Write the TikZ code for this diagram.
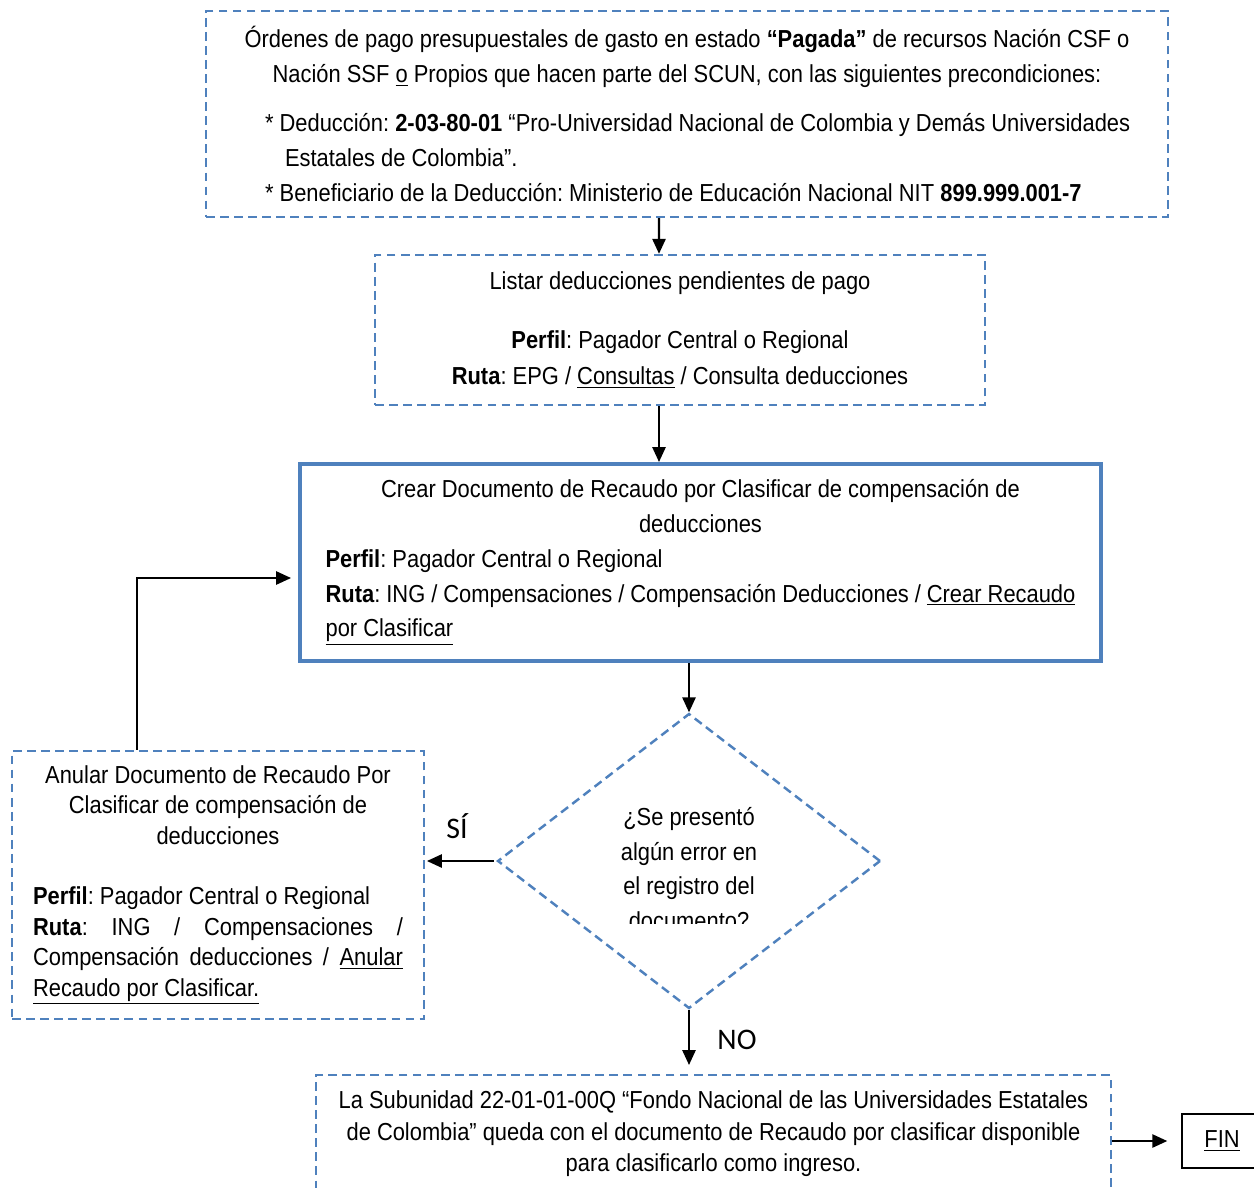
\documentclass[tikz,border=0pt]{standalone}
\usepackage{fontspec}
\setmainfont{Liberation Sans}[FakeStretch=0.89]
\newfontfamily\labelfont{Carlito}
\frenchspacing
\usetikzlibrary{arrows.meta,shapes.geometric}
\definecolor{boxblue}{RGB}{79,129,189}
\tikzset{
  dashbox/.style={draw=boxblue, line width=1.4pt, dash pattern=on 5pt off 3pt, inner sep=0pt},
  flow/.style={-{Triangle[length=8.5pt,width=7.5pt]}, line width=1.2pt},
}
\begin{document}
\begin{tikzpicture}[x=0.02cm,y=-0.02cm,font=\fontsize{14}{19.8}\selectfont]
  \useasboundingbox (0,0) rectangle (1254,1187);
  % process boxes
  \node[dashbox, minimum width=19.24cm, minimum height=4.12cm, text width=18.6cm, align=flush left]
    (ordenes) at (687,114) {%
    {\centering Órdenes de pago presupuestales de gasto en estado \textbf{“Pagada”} de recursos Nación CSF o\\
    Nación SSF \underline{o} Propios que hacen parte del SCUN, con las siguientes precondiciones:\par}
    \vspace{8pt}
    \hspace*{0.86cm}* Deducción: \textbf{2-03-80-01} “Pro-Universidad Nacional de Colombia y Demás Universidades\\
    \hspace*{1.26cm}Estatales de Colombia”.\\
    \hspace*{0.86cm}* Beneficiario de la Deducción: Ministerio de Educación Nacional NIT \textbf{899.999.001-7}};
  \node[dashbox, minimum width=12.2cm, minimum height=3cm, align=center, font=\fontsize{14}{20.4}\selectfont]
    (listar) at (680,330) {%
    Listar deducciones pendientes de pago\\[13.6pt]
    \textbf{Perfil}: Pagador Central o Regional\\
    \textbf{Ruta}: EPG / \underline{Consultas} / Consulta deducciones};
  \node[draw=boxblue, line width=2.3pt, inner sep=0pt, minimum width=16.02cm, minimum height=3.94cm,
    text width=15cm, align=justify] (crear) at (700.5,562.5) {%
    {\centering Crear Documento de Recaudo por Clasificar de compensación de\\
    deducciones\par}
    \textbf{Perfil}: Pagador Central o Regional\\
    \textbf{Ruta}: ING / Compensaciones / Compensación Deducciones / \underline{Crear Recaudo}\linebreak
    \underline{por Clasificar}};
  \node[dashbox, diamond, minimum width=7.66cm, minimum height=5.9cm] (error) at (689,861) {};
  \begin{scope}
    \clip (540,790) rectangle (840,923);
    \node[align=center] (pregunta) at (689,868.5) {¿Se presentó\\algún error en\\el registro del\\documento?};
  \end{scope}
  \node[dashbox, minimum width=8.24cm, minimum height=5.36cm, text width=7.4cm, align=justify,
    font=\fontsize{14}{17.3}\selectfont] (anular) at (218,885) {%
    {\centering Anular Documento de Recaudo Por\\
    Clasificar de compensación de\\
    deducciones\par}
    \vspace{17.3pt}
    \textbf{Perfil}: Pagador Central o Regional\\
    \textbf{Ruta}: ING / Compensaciones /\linebreak
    Compensación deducciones / \underline{Anular}\linebreak
    \underline{Recaudo por Clasificar.}};
  \node[dashbox, minimum width=15.9cm, minimum height=2.36cm, align=center,
    font=\fontsize{14}{17.9}\selectfont] (subunidad) at (713.5,1134) {%
    La Subunidad 22-01-01-00Q “Fondo Nacional de las Universidades Estatales\\
    de Colombia” queda con el documento de Recaudo por clasificar disponible\\
    para clasificarlo como ingreso.};
  \node[draw, line width=0.8pt, minimum width=1.6cm, minimum height=1.08cm] (fin) at (1222,1141) {\underline{FIN}};
  % labels
  \node[font=\labelfont\fontsize{17}{20}\selectfont] (si) at (457,826) {SÍ};
  \node[font=\labelfont\fontsize{17}{20}\selectfont] (no) at (737,1040) {NO};
  % connectors
  \begin{scope}[flow]
    \draw ([xshift=-0.56cm]ordenes.south) -- ([xshift=-0.42cm]listar.north);
    \draw ([xshift=-0.42cm]listar.south) -- ([xshift=-0.42cm]listar.south |- crear.north);
    \draw (crear.south -| error.north) -- (error.north);
    \draw ([xshift=-1.5pt]error.west) -- ([xshift=1pt]error.west -| anular.east);
    \draw (error.south) -- ([yshift=5pt]error.south |- subunidad.north);
    \draw ([xshift=-1.62cm]anular.north) |- ([yshift=-0.31cm,xshift=-4pt]crear.west);
    \draw (fin.west -| subunidad.east) -- ([xshift=-8pt]fin.west);
  \end{scope}
\end{tikzpicture}
\end{document}
